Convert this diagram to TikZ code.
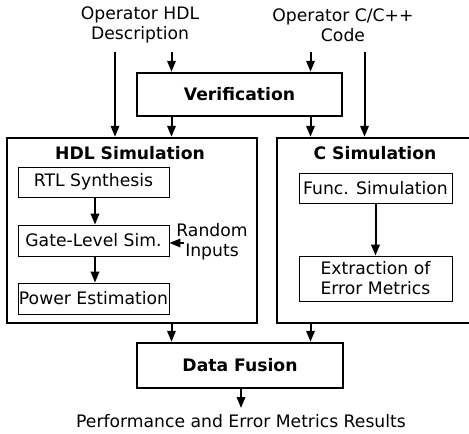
\documentclass[tikz,border=0pt]{standalone}
\usepackage{fontspec}
\setmainfont{DejaVu Sans}
\usetikzlibrary{arrows.meta}
\begin{document}
\begin{tikzpicture}[x=1pt,y=-1pt,
  every node/.style={font=\fontsize{17.2}{20}\selectfont, inner sep=0pt},
  bigbox/.style={draw, line width=2.5pt, minimum width=#1},
  smallbox/.style={draw, line width=0.9pt, minimum width=151pt, align=center},
  arr/.style={line width=2pt, -{Triangle[length=11pt,width=8.5pt]}},
  title/.style={font=\bfseries\fontsize{17.2}{20}\selectfont},
  lbl/.style={align=center}]
\useasboundingbox (0,0) rectangle (469,434);
% inputs
\node[lbl] (hdlin) at (140,25) {Operator HDL\\Description};
\node[lbl] (cin) at (343,25) {Operator C/C++\\Code};
% verification
\node[bigbox=205pt, minimum height=43pt, title] (verif) at (239.5,94.5) {Verification};
% HDL simulation
\node[bigbox=250pt, minimum height=185pt] (hdl) at (132,230.5) {};
\node[title] (hdlt) at (130,153) {HDL Simulation};
\node[smallbox, minimum height=30pt] (rtl) at (93.5,182) {RTL Synthesis};
\node[smallbox, minimum height=31pt] (gate) at (93.5,240.5) {Gate-Level Sim.};
\node[smallbox, minimum height=31pt] (power) at (93.5,298.5) {Power Estimation};
\node[lbl] (rand) at (212,242) {Random\\Inputs};
% C simulation
\node[bigbox=196pt, minimum height=185pt] (csim) at (375,230.5) {};
\node[title] (csimt) at (375,153) {C Simulation};
\node[smallbox, minimum width=153pt, minimum height=30pt] (func) at (375.5,188) {Func. Simulation};
\node[smallbox, minimum width=153pt, minimum height=45pt] (extr) at (375.5,278.5) {Extraction of\\Error Metrics};
% data fusion
\node[bigbox=206pt, minimum height=45pt, title] (fusion) at (240,365.5) {Data Fusion};
\node (out) at (241,421) {Performance and Error Metrics Results};
% coordinates for connector ends
\coordinate (a1) at (115,52);
\coordinate (a2) at (171.5,52);
\coordinate (a3) at (310.5,52);
\coordinate (a4) at (364.5,52);
\coordinate (ri) at (184,243);
\coordinate (o1) at (241,408);
% connectors
\draw[arr] (a1) -- (a1 |- hdl.north);
\draw[arr] (a2) -- (a2 |- verif.north);
\draw[arr] (a3) -- (a3 |- verif.north);
\draw[arr] (a4) -- (a4 |- csim.north);
\draw[arr] (a2 |- verif.south) -- (a2 |- hdl.north);
\draw[arr] (a3 |- verif.south) -- (a3 |- csim.north);
\draw[arr] (rtl.south -| 95,0) -- (gate.north -| 95,0);
\draw[arr] (gate.south -| 95,0) -- (power.north -| 95,0);
\draw[arr] (ri) -- (gate.east |- ri);
\draw[arr] (func) -- (extr);
\draw[arr] (a2 |- hdl.south) -- (a2 |- fusion.north);
\draw[arr] (a3 |- csim.south) -- (a3 |- fusion.north);
\draw[arr] (fusion.south -| o1) -- (o1);
\end{tikzpicture}
\end{document}
